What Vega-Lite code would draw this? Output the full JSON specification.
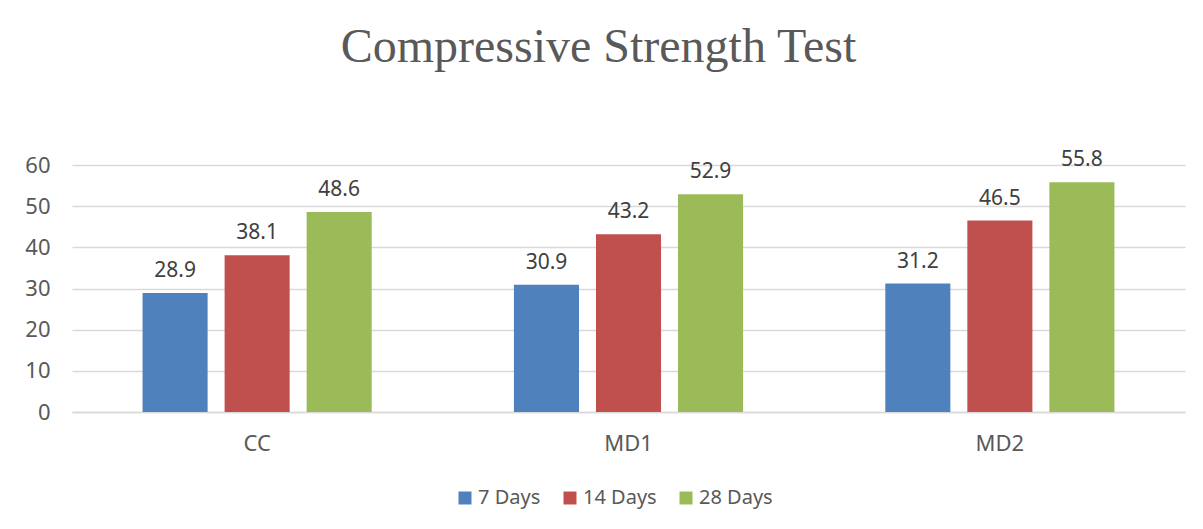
{
  "$schema": "https://vega.github.io/schema/vega-lite/v6.json",
  "width": 1113,
  "height": 247,
  "autosize": {"type": "none"},
  "padding": {"left": 72, "top": 165, "right": 18, "bottom": 117},
  "background": "white",
  "title": {
    "text": "Compressive Strength Test",
    "font": "Liberation Serif",
    "fontSize": 48,
    "fontWeight": "normal",
    "color": "#595959",
    "anchor": "middle",
    "dx": -30,
    "offset": 77
  },
  "data": {
    "values": [
      {"mix": "CC", "age": "7 Days", "strength": 28.9},
      {"mix": "CC", "age": "14 Days", "strength": 38.1},
      {"mix": "CC", "age": "28 Days", "strength": 48.6},
      {"mix": "MD1", "age": "7 Days", "strength": 30.9},
      {"mix": "MD1", "age": "14 Days", "strength": 43.2},
      {"mix": "MD1", "age": "28 Days", "strength": 52.9},
      {"mix": "MD2", "age": "7 Days", "strength": 31.2},
      {"mix": "MD2", "age": "14 Days", "strength": 46.5},
      {"mix": "MD2", "age": "28 Days", "strength": 55.8}
    ]
  },
  "encoding": {
    "x": {
      "field": "mix",
      "type": "nominal",
      "sort": ["CC", "MD1", "MD2"],
      "scale": {"paddingInner": 0.383, "paddingOuter": 0.19},
      "axis": {
        "title": null,
        "labelAngle": 0,
        "labelFont": "Noto Sans",
        "labelFontSize": 22,
        "labelColor": "#595959",
        "labelPadding": 21,
        "ticks": false,
        "domain": true,
        "domainColor": "#D9D9D9",
        "domainWidth": 1.5
      }
    },
    "xOffset": {
      "field": "age",
      "type": "nominal",
      "sort": ["7 Days", "14 Days", "28 Days"],
      "scale": {"paddingInner": 0.207, "paddingOuter": 0}
    },
    "y": {
      "field": "strength",
      "type": "quantitative",
      "scale": {"domain": [0, 60], "nice": false},
      "axis": {
        "title": null,
        "values": [0, 10, 20, 30, 40, 50, 60],
        "labelFont": "Noto Sans",
        "labelFontSize": 22,
        "labelColor": "#595959",
        "labelPadding": 22,
        "ticks": false,
        "domain": false,
        "grid": true,
        "gridColor": "#D9D9D9",
        "gridWidth": 1.5
      }
    }
  },
  "layer": [
    {
      "mark": {"type": "bar"},
      "encoding": {
        "color": {
          "field": "age",
          "type": "nominal",
          "sort": ["7 Days", "14 Days", "28 Days"],
          "scale": {
            "domain": ["7 Days", "14 Days", "28 Days"],
            "range": ["#4F81BD", "#C0504D", "#9BBB59"]
          },
          "legend": {
            "title": null,
            "orient": "none",
            "legendX": 383,
            "legendY": 323,
            "direction": "horizontal",
            "symbolType": "square",
            "symbolSize": 169,
            "symbolStrokeWidth": 0,
            "labelFont": "Noto Sans",
            "labelFontSize": 20,
            "labelColor": "#595959",
            "labelOffset": 3,
            "columnPadding": 19
          }
        }
      }
    },
    {
      "mark": {
        "type": "text",
        "baseline": "bottom",
        "dy": -12,
        "font": "Noto Sans",
        "fontSize": 21,
        "color": "#404040"
      },
      "encoding": {
        "text": {"field": "strength", "type": "quantitative", "format": ".1f"}
      }
    }
  ],
  "config": {
    "view": {"stroke": null}
  }
}
